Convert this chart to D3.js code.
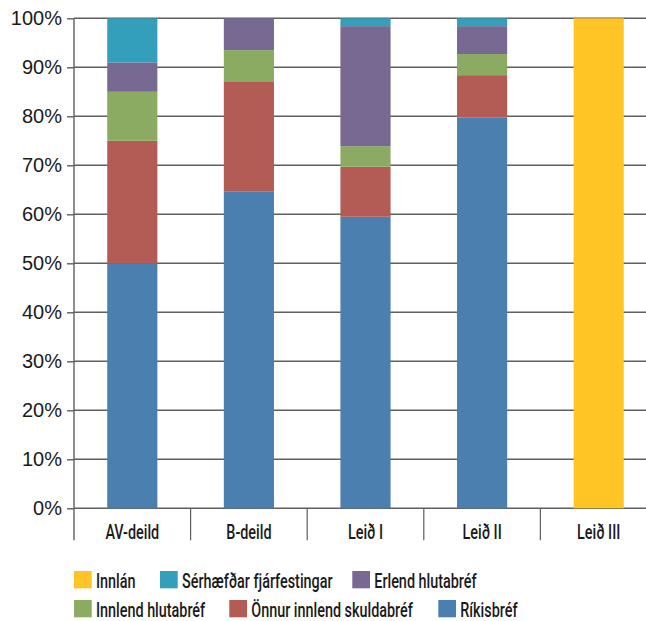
<!DOCTYPE html>
<html>
<head>
<meta charset="utf-8">
<script src="https://cdn.jsdelivr.net/npm/d3@7"></script>
<style>
  body { margin: 0; background: #fff; }
  .tickText { font-family: "Liberation Sans", Arial, sans-serif; font-size: 20px; fill: #1a1a1a; }
  .narrowText { font-family: Roboto, "Liberation Sans", sans-serif; font-size: 20px; font-weight: 500; fill: #1a1a1a; }
</style>
</head>
<body>
<script>
/********************************************************/
// Data (percent of each fund)
const categories = ["AV-deild", "B-deild", "Leið I", "Leið II", "Leið III"];
const rikisbref = [50, 64.6, 59.5, 79.8, 0];
const onnurSkuldabref = [25, 22.4, 10.2, 8.6, 0];
const innlendHlutabref = [10, 6.5, 4.2, 4.3, 0];
const erlendHlutabref = [6, 6.5, 24.5, 5.7, 0];
const serhaefdar = [9, 0, 1.6, 1.6, 0];
const innlan = [0, 0, 0, 0, 100];
const yTicks = [0, 10, 20, 30, 40, 50, 60, 70, 80, 90, 100];
/********************************************************/
const seriesNames = ["Ríkisbréf", "Önnur innlend skuldabréf", "Innlend hlutabréf",
  "Erlend hlutabréf", "Sérhæfðar fjárfestingar", "Innlán"];
const seriesValues = [rikisbref, onnurSkuldabref, innlendHlutabref, erlendHlutabref, serhaefdar, innlan];
const seriesColors = ["#4a7fb0", "#b35b55", "#8cab62", "#786993", "#339fba", "#fec524"];
/********************************************************/
// Define SVG area dimensions
const svgWidth = 646;
const svgHeight = 621;
const plot = { left: 74, right: 657, top: 18.3, bottom: 508.3 };
/********************************************************/
const svg = d3.select("body").append("svg").attr("width", svgWidth).attr("height", svgHeight);
/********************************************************/
// no condensed font installed -> squeeze Roboto horizontally
const probe = svg.append("text").attr("class", "narrowText").text("Sérhæfðar fjárfestingar");
const squeeze = 150.7 / probe.node().getComputedTextLength();
probe.remove();

function narrowText(parent, x, y, str, anchor) {
  return parent
    .append("text")
    .attr("class", "narrowText")
    .attr("text-anchor", anchor || "start")
    .attr("transform", `translate(${x}, ${y}) scale(${squeeze}, 1)`)
    .text(str);
}
/********************************************************/
// table for d3.stack
const table = categories.map((c, i) => {
  const row = { category: c };
  seriesNames.forEach((s, j) => (row[s] = seriesValues[j][i]));
  return row;
});
const stacked = d3.stack().keys(seriesNames)(table);
/********************************************************/
const yScale = d3.scaleLinear().domain([0, 100]).range([plot.bottom, plot.top]);
const xBands = d3.scaleBand().domain(categories).range([plot.left, plot.right]).padding(0);
const xBars = d3
  .scaleBand()
  .domain(categories)
  .range([plot.left, plot.right])
  .paddingInner(0.57)
  .paddingOuter(0.285);
const color = d3.scaleOrdinal().domain(seriesNames).range(seriesColors);
/********************************************************/
// gridlines (behind bars)
svg
  .append("g")
  .selectAll("line")
  .data(yTicks)
  .enter()
  .append("line")
  .attr("x1", plot.left)
  .attr("x2", svgWidth)
  .attr("y1", (d) => yScale(d))
  .attr("y2", (d) => yScale(d))
  .attr("stroke", "#5f5f5f")
  .attr("stroke-width", 1.4);
/********************************************************/
// bars
svg
  .append("g")
  .selectAll("g")
  .data(stacked)
  .enter()
  .append("g")
  .attr("fill", (d) => color(d.key))
  .selectAll("rect")
  .data((d) => d)
  .enter()
  .append("rect")
  .attr("x", (d) => xBars(d.data.category))
  .attr("width", xBars.bandwidth())
  .attr("y", (d) => yScale(d[1]))
  .attr("height", (d) => yScale(d[0]) - yScale(d[1]));
/********************************************************/
// left axis with outward ticks
const leftAxis = d3
  .axisLeft(yScale)
  .tickValues(yTicks)
  .tickSize(7)
  .tickPadding(5)
  .tickFormat((d) => d + "%");
const yAxisG = svg.append("g").attr("transform", `translate(${plot.left},0)`).call(leftAxis);
yAxisG.select(".domain").remove();
yAxisG.selectAll(".tick line").attr("stroke", "#5f5f5f").attr("stroke-width", 1.4);
yAxisG.selectAll(".tick text").attr("class", "tickText").attr("font-size", null).attr("font-family", null);

svg
  .append("line")
  .attr("x1", plot.left)
  .attr("x2", plot.left)
  .attr("y1", plot.top)
  .attr("y2", plot.bottom + 32)
  .attr("stroke", "#5f5f5f")
  .attr("stroke-width", 1.4);
/********************************************************/
// category dividers + labels
svg
  .append("g")
  .selectAll("line")
  .data(categories.slice(1))
  .enter()
  .append("line")
  .attr("x1", (d) => xBands(d))
  .attr("x2", (d) => xBands(d))
  .attr("y1", plot.bottom)
  .attr("y2", plot.bottom + 32)
  .attr("stroke", "#5f5f5f")
  .attr("stroke-width", 1.2);

const xLabels = svg.append("g");
categories.forEach((c) => {
  narrowText(xLabels, xBands(c) + xBands.bandwidth() / 2, plot.bottom + 31, c, "middle");
});
/********************************************************/
// legend, two rows (top of stack first)
const legendOrder = seriesNames.slice().reverse();
const legendCols = [[74, 160, 352.3], [74, 229.3, 438.3]];
const legendRows = [571, 600];

legendOrder.forEach((name, i) => {
  const row = Math.floor(i / 3);
  const col = i % 3;
  const g = svg.append("g").attr("transform", `translate(${legendCols[row][col]}, ${legendRows[row]})`);
  g.append("rect").attr("width", 17.7).attr("height", 17.3).attr("fill", color(name));
  narrowText(g, 22, 16.5, name);
});
/********************************************************/
</script>
</body>
</html>
